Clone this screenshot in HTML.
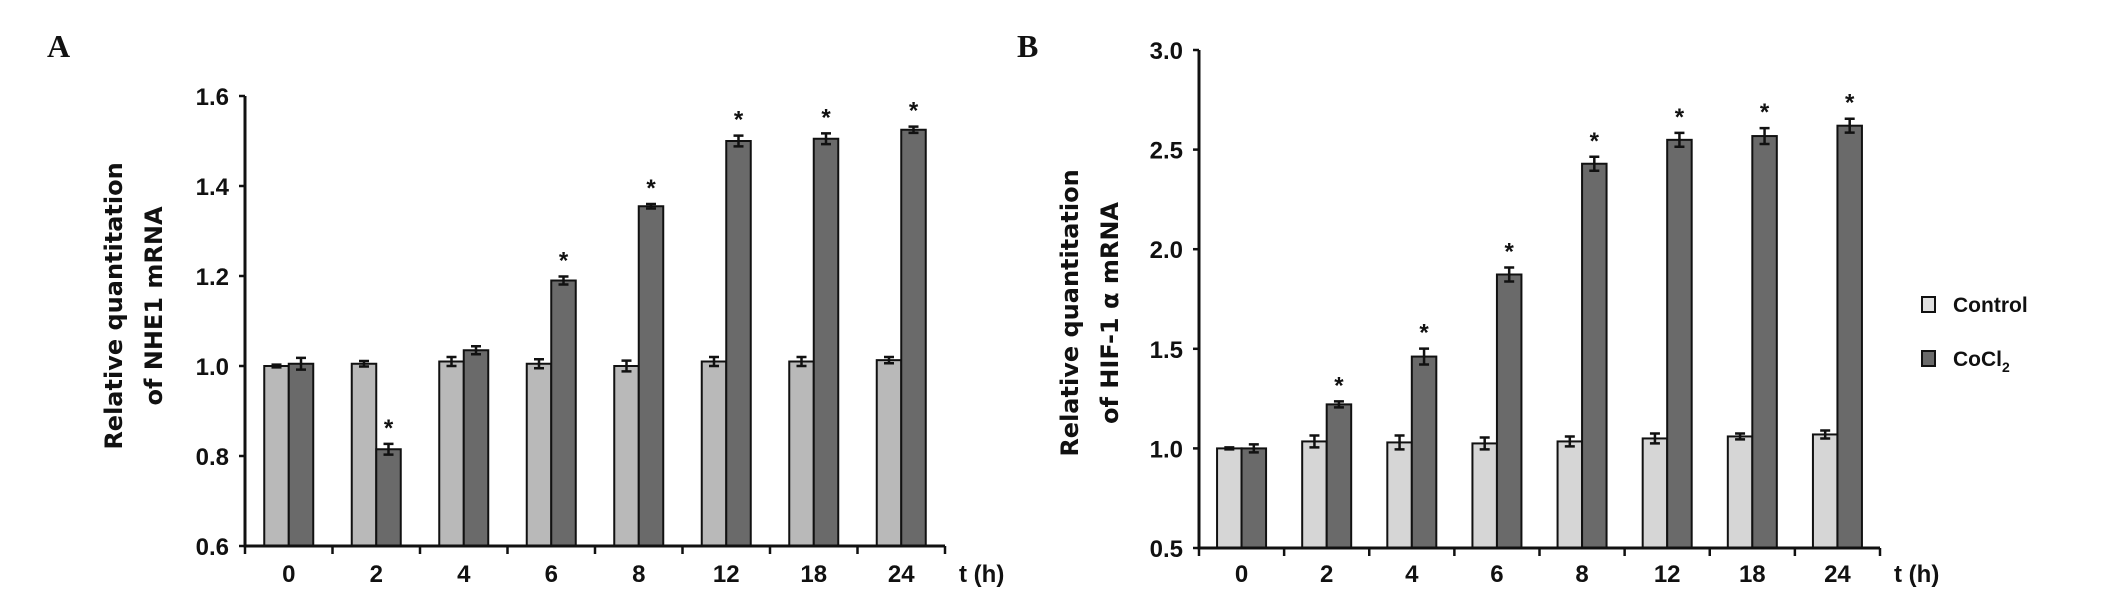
<!DOCTYPE html>
<html><head><meta charset="utf-8"><style>
html,body{margin:0;padding:0;background:#fff;}
svg{display:block;}
.tick{font-family:"Liberation Sans Narrow","Liberation Sans",sans-serif;font-size:24px;font-weight:bold;fill:#111;}
.ttl{font-family:"DejaVu Sans","Liberation Sans",sans-serif;font-size:24px;font-weight:bold;fill:#111;}
.pl{font-family:"Liberation Serif",serif;font-size:32px;font-weight:bold;fill:#111;}
</style></head><body>
<svg id="chart" width="2124" height="594" viewBox="0 0 2124 594"></svg>
<script>
const categories = ["0","2","4","6","8","12","18","24"];
const controlA = [1.0,1.005,1.01,1.005,1.0,1.01,1.01,1.013];
const cocl2A = [1.005,0.815,1.035,1.19,1.355,1.5,1.505,1.525];
const controlAErr = [0.003,0.006,0.01,0.01,0.012,0.01,0.01,0.007];
const cocl2AErr = [0.013,0.012,0.009,0.009,0.005,0.012,0.012,0.007];
const sigA = [false,true,false,true,true,true,true,true];
const ticksA = [0.6,0.8,1.0,1.2,1.4,1.6];
const controlB = [1.0,1.035,1.03,1.025,1.035,1.05,1.06,1.07];
const cocl2B = [1.0,1.221,1.461,1.873,2.429,2.549,2.568,2.62];
const controlBErr = [0.005,0.03,0.035,0.03,0.025,0.025,0.015,0.02];
const cocl2BErr = [0.02,0.015,0.04,0.035,0.035,0.035,0.04,0.035];
const sigB = [false,true,true,true,true,true,true,true];
const ticksB = [0.5,1.0,1.5,2.0,2.5,3.0];

const svg = document.getElementById('chart');
const NS = 'http://www.w3.org/2000/svg';
function mk(tag, attrs, parent){const e=document.createElementNS(NS,tag);for(const k in attrs)e.setAttribute(k,attrs[k]);(parent||svg).appendChild(e);return e;}

function panel(p){
  const g = mk('g',{});
  
  
  const y = v => p.y0 + (v - p.vmin)/(p.vmax - p.vmin)*(p.y1 - p.y0);
  const step = (p.xEnd - p.x0)/categories.length;
  const bw = 24.5;
  categories.forEach((c,i)=>{
    const cx = p.x0 + step*(i+0.5);
    [[p.ctrl[i],p.ctrlErr[i],cx-bw,p.ctrlColor,'control'],[p.coc[i],p.cocErr[i],cx,'#6a6a6a','cocl2']].forEach(([v,e,x,col,s])=>{
      const r = mk('rect',{x:x,y:y(v),width:bw,height:p.y0-y(v),fill:col,stroke:'#111','stroke-width':2},g);
      
      
      const ex = x+bw/2;
      const eb = mk('path',{d:`M${ex},${y(v+e)}V${y(v-e)}M${ex-5},${y(v+e)}H${ex+5}M${ex-5},${y(v-e)}H${ex+5}`,stroke:'#111','stroke-width':2.5,fill:'none'},g);
      
      
    });
    if(p.sig[i]){
      const t = mk('text',{x:cx+bw/2,y:y(p.coc[i]+p.cocErr[i])-8,'text-anchor':'middle',class:'tick'},g);
      t.textContent='*';
      
      
    }
    const l = mk('text',{x:cx,y:582,'text-anchor':'middle',class:'tick'},g);
    l.textContent=c;
    
    
  });
  const ax = mk('path',{d:`M${p.x0},${p.y1}V${p.y0}H${p.xEnd}`,stroke:'#111','stroke-width':3,fill:'none'},g);
  
  
  for(let i=0;i<=categories.length;i++){
    const tx = p.x0+step*i;
    mk('line',{x1:tx,x2:tx,y1:p.y0,y2:p.y0+8,stroke:'#111','stroke-width':2.5},g);
  }
  p.ticks.forEach(v=>{
    mk('line',{x1:p.x0-6,x2:p.x0,y1:y(v),y2:y(v),stroke:'#111','stroke-width':2.5},g);
    const t = mk('text',{x:p.x0-16,y:y(v)+9,'text-anchor':'end',class:'tick'},g);
    t.textContent=v.toFixed(1);
    
    
  });
  const th = mk('text',{x:p.xEnd+14,y:582,class:'tick'},g);
  th.textContent='t (h)';
  
  
  const yt = mk('text',{transform:`translate(${p.tx},${p.ty}) rotate(-90)`,'text-anchor':'middle',class:'ttl'},g);
  
  
  const t1 = mk('tspan',{x:0,y:0},yt); t1.textContent='Relative quantitation';
  const t2 = mk('tspan',{x:0,dy:40},yt); t2.textContent=p.line2;
  const pl = mk('text',{x:p.px,y:57,class:'pl'},g);
  pl.textContent=p.label;
  
  
}
panel({name:'panel-a',label:'A',px:47,x0:245,xEnd:945,y0:546,y1:96,vmin:0.6,vmax:1.6,ctrl:controlA,coc:cocl2A,ctrlErr:controlAErr,cocErr:cocl2AErr,sig:sigA,ticks:ticksA,ctrlColor:'#b9b9b9',tx:122,ty:306,line2:'of NHE1 mRNA'});
panel({name:'panel-b',label:'B',px:1017,x0:1199,xEnd:1880,y0:548,y1:50,vmin:0.5,vmax:3.0,ctrl:controlB,coc:cocl2B,ctrlErr:controlBErr,cocErr:cocl2BErr,sig:sigB,ticks:ticksB,ctrlColor:'#d6d6d6',tx:1078,ty:313,line2:'of HIF-1 \u03b1 mRNA'});
const lg = mk('g',{});


[['Control','#e0e0e0',304],['CoCl','#6a6a6a',358]].forEach(([n,c,yy],i)=>{
  const e = mk('g',{},lg);
  
  
  mk('rect',{x:1922,y:yy-7,width:13,height:15,fill:c,stroke:'#111','stroke-width':2},e);
  const t = mk('text',{x:1953,y:yy+8,class:'tick',style:'font-size:21px'},e);
  t.textContent=n;
  if(i){const s=mk('tspan',{dy:6,style:'font-size:14px'},t);s.textContent='2';}
});
</script>
</body></html>
